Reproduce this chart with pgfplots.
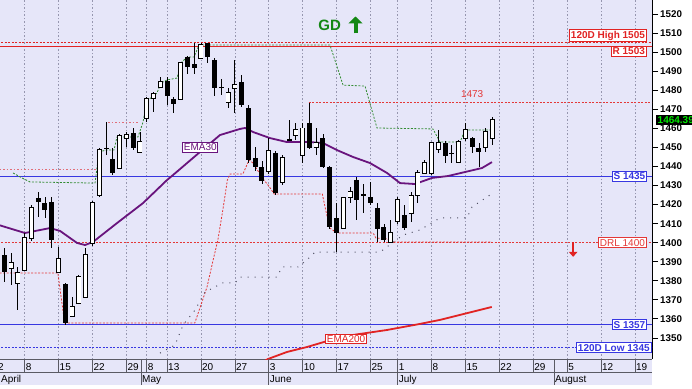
\documentclass[border=0pt]{standalone}
\usepackage{fontspec}
\setmainfont{Liberation Sans}
\usepackage{pgfplots}
\pgfplotsset{compat=1.18}
\usepackage{pgfplotstable}
\usetikzlibrary{arrows.meta}

\definecolor{bg}{RGB}{230,230,249}
\definecolor{gridc}{RGB}{150,150,175}
\definecolor{sepc}{RGB}{90,90,100}
\definecolor{emapurple}{RGB}{105,20,125}
\definecolor{lred}{RGB}{225,35,35}
\definecolor{dred}{RGB}{228,55,55}
\definecolor{pinkr}{RGB}{225,110,120}
\definecolor{lblue}{RGB}{55,55,225}
\definecolor{tgreen}{RGB}{50,140,50}
\definecolor{ggreen}{RGB}{20,135,20}
\definecolor{dotg}{RGB}{80,80,100}
\definecolor{pricegreen}{RGB}{0,230,0}

% k open high low close  (k = trading day index)
\pgfplotstableread{
k o h l c
0 1418.7 1420 1394 1395
1 1393.6 1397 1379.4 1384.6
6 1423.5 1426.6 1413.5 1421.4
7 1420.8 1424 1413 1417.2
8 1421.4 1424 1397.2 1401.4
10 1378.3 1379 1357 1357.9
16 1449.7 1463.3 1446 1449.2
17 1443.9 1449.7 1435.5 1436.6
20 1457.6 1460.2 1448.6 1449.7
25 1484.9 1487 1472.3 1477
26 1475.4 1476.5 1468 1472.8
28 1497.4 1498 1488.5 1492.2
29 1493.8 1505 1488.5 1491.7
31 1504.8 1505 1494.3 1497.4
32 1495.9 1497 1477 1481.2
33 1481.7 1486 1477.5 1481.2
36 1484.3 1488 1471 1472.3
37 1470.7 1472 1441.8 1443.4
38 1444.4 1450 1437.5 1439.7
39 1439.7 1443 1431 1432.4
41 1447.1 1448 1425 1426.1
43 1454.4 1464.4 1453.4 1453.9
46 1462.8 1473.5 1449 1449.7
48 1454.9 1457 1439 1439.7
49 1439.7 1440 1407 1408.2
50 1413 1420.8 1395.1 1405.1
53 1432.9 1434.5 1411.9 1422.4
54 1425.5 1431 1415.5 1425
55 1424 1432 1419.8 1420.8
56 1418.2 1420.8 1400.4 1407.2
57 1408.2 1410 1400.4 1401.4
60 1414.5 1419.8 1406.5 1407.7
66 1452.3 1453.4 1441.8 1445.5
67 1447.1 1451.3 1441.8 1446.6
70 1454.9 1455.5 1447.1 1450.2
71 1449.7 1452.3 1439.7 1447.6
}\blackc

\pgfplotstableread{
k o h l c
2 1386.6 1394.6 1377.8 1389.3
3 1378.9 1387.3 1364.7 1384.1
4 1385.7 1405 1385 1402.5
5 1402.5 1419.8 1401 1418.2
9 1384.6 1397.8 1384 1391.5
11 1361.6 1371.5 1361 1366.3
12 1368.4 1383 1368 1382
13 1371.5 1397.2 1371 1393.6
14 1399.8 1422 1398.5 1420.8
15 1425 1449.5 1424 1448.6
18 1439.2 1457 1439 1456
19 1455 1458.1 1450 1456.8
21 1447.6 1458.1 1447 1452.8
22 1465.4 1476.5 1463.3 1475.4
23 1476 1479.1 1468.6 1478.3
24 1481.7 1487 1481.2 1484.3
27 1475.4 1495 1474.9 1494.3
30 1496.9 1505 1496.4 1503.7
34 1473.8 1481 1470.7 1478.6
35 1481.2 1495.9 1468 1482.7
40 1437.6 1455 1436 1448.1
42 1431.9 1446 1430.5 1444.4
44 1456.5 1462.8 1453.9 1459.1
45 1446 1463 1442 1460
47 1450.2 1460.2 1446 1452.3
51 1407.7 1424 1407 1423.5
52 1424 1429.2 1421 1426.6
58 1400.4 1412 1400 1405.1
59 1411.3 1424 1410 1422.4
61 1415.6 1426.6 1411 1424.5
62 1425 1438 1421 1436.6
63 1436.6 1443.4 1436 1441.8
64 1436.6 1452.8 1435.5 1452.3
65 1449.2 1459.1 1447 1452.3
68 1442.3 1454 1442 1452.8
69 1455 1462.8 1453.4 1459.1
72 1450.2 1460.2 1447.6 1458.1
73 1454.9 1466 1451.3 1464.39
}\whitec

\tikzset{
  lbox/.style={fill=white, line width=0.8pt, inner sep=1.4pt, font=\bfseries\fontsize{10}{11}\selectfont},
  trail/.style={line width=0.8pt, dash pattern=on 2pt off 1.5pt},
  dlab/.style={anchor=base west, inner sep=0pt, font=\fontsize{10}{12}\selectfont},
}

\begin{document}
\begin{tikzpicture}
\fill[white] (0pt,0pt) rectangle (692pt,388pt);
\fill[bg] (0pt,3pt) rectangle (652pt,29pt);
\begin{axis}[
  name=ax, at={(0pt,29pt)}, anchor=south west,
  scale only axis, width=652pt, height=359pt,
  xmin=0.366, xmax=96.53, ymin=1339, ymax=1527.35,
  axis background/.style={fill=bg},
  axis x line*=bottom, axis y line*=right,
  x axis line style={draw=sepc, line width=0.6pt},
  y axis line style={draw=black, line width=1pt},
  xtick={4,9,14,19,22,25,30,35,40,45,50,55,59,64,69,74,79,84,89,94},
  xticklabels={8,15,22,29,8,13,20,27,3,10,17,25,1,8,15,22,29,5,12,19},
  x tick style={draw=none},
  xticklabel style={anchor=base west, yshift=-11pt, xshift=1pt, inner sep=0pt, font=\fontsize{10}{12}\selectfont},
  xmajorgrids,
  major grid style={draw=gridc, dash pattern=on 1.5pt off 2pt, line width=0.55pt},
  ytick={1350,1360,...,1520},
  ytick align=outside, major tick length=6pt,
  y tick style={draw=black, line width=1pt},
  yticklabel style={anchor=west, inner sep=0pt, xshift=2pt, font=\bfseries\fontsize{9.8}{11}\selectfont},
  /pgf/number format/1000 sep={}, /pgf/number format/assume math mode=true,
  after end axis/.code={
    \draw[sepc, line width=0.6pt] (axis cs:0.366,1339) ++(0pt,-13pt) -- ++(652pt,0pt);
    \foreach \k in {4,9,14,19,22,25,30,35,45,50,55,64,69,74,79,84,89,94}{
      \draw[sepc, line width=0.6pt] (axis cs:\k,1339) -- ++(0pt,-13pt);
    }
    \foreach \k in {21.16,40,59,82.07}{
      \draw[sepc, line width=0.6pt] (axis cs:\k,1339) -- ++(0pt,-26pt);
    }
    \node[dlab] at ([xshift=-2pt,yshift=-11pt]axis cs:0.366,1339) {2};
    \node[dlab] at ([xshift=1pt,yshift=-23pt]axis cs:0.366,1339) {April};
    \node[dlab] at ([xshift=1pt,yshift=-23pt]axis cs:21.16,1339) {May};
    \node[dlab] at ([xshift=1pt,yshift=-23pt]axis cs:40,1339) {June};
    \node[dlab] at ([xshift=1pt,yshift=-23pt]axis cs:59,1339) {July};
    \node[dlab] at ([xshift=1pt,yshift=-23pt]axis cs:82.07,1339) {August};
    \node[fill=black, text=pricegreen, anchor=west, inner sep=1.5pt, font=\bfseries\fontsize{10}{11}\selectfont] at ([xshift=4pt]axis cs:96.53,1464.39) {1464.39};
  },
]

% horizontal levels
\addplot[lred, line width=1pt] coordinates {(0,1503) (97,1503)};
\addplot[lred, trail] coordinates {(0,1505) (97,1505)};
\addplot[dred, trail] coordinates {(45.9,1473.5) (97,1473.5)};
\addplot[lblue, line width=1pt] coordinates {(0,1435) (97,1435)};
\addplot[dred, trail] coordinates {(0,1400) (97,1400)};
\addplot[lblue, line width=1pt] coordinates {(0,1357) (97,1357)};
\addplot[lblue, trail] coordinates {(0,1345) (97,1345)};

% trailing stop lines
\addplot[pinkr, line width=0.7pt, dash pattern=on 1.5pt off 2pt] coordinates {(0.3,1438.7) (14.6,1438.7)};
\addplot[pinkr, line width=0.7pt, dash pattern=on 1.5pt off 2pt] coordinates {(16.3,1463.3) (20.7,1463.3)};
\addplot[dred, trail] coordinates {
(0.3,1384.1) (8.9,1384.1) (9.9,1357.9) (29.1,1357.9) (29.9,1366.3) (30.9,1376.8)
(31.8,1390.9) (32.5,1401.4) (33.3,1418.7) (33.9,1432.9) (34.3,1436.1) (36.2,1436.1)
(37.1,1443.4) (37.7,1441.8) (38.6,1436.6) (39.3,1432.9) (40.0,1429.8) (40.8,1425.6)
(47.9,1425.6) (48.4,1417.2) (49.0,1407.7) (50.1,1405.1) (55.4,1405.1) (55.8,1402.5)
(57.5,1402.0) (57.9,1400.4) (72.9,1400.4)};
\addplot[tgreen, trail] coordinates {
(2.28,1436.6) (3.61,1434.0) (4.79,1431.9) (14.38,1431.3) (14.97,1447.6) (16.0,1448.6)
(17.18,1448.6) (17.62,1455.5) (20.72,1455.5) (21.46,1463.3) (22.05,1474.9) (22.93,1476.5)
(23.52,1478.6) (24.11,1483.8) (25.0,1485.4) (26.47,1486.4) (27.06,1494.3) (27.95,1497.4)
(28.98,1497.4) (29.72,1503.7) (49.04,1503.7) (50.96,1482.7) (54.2,1482.2) (55.97,1460.2)
(64.23,1459.7) (65.26,1452.8) (68.21,1452.8) (68.95,1459.1) (72.93,1459.1)};
\addplot[dotg, line width=1pt, dash pattern=on 1pt off 6pt] coordinates {
(23.96,1342.1) (26.18,1346.3) (27.36,1356.8) (29.13,1364.7) (30.6,1374.1) (32.08,1376.8)
(33.11,1378.9) (35.03,1378.9) (35.76,1382.0) (41.22,1382.0) (41.96,1387.3) (44.32,1387.3)
(45.79,1391.5) (46.83,1395.1) (56.41,1395.1) (59.8,1404.0) (62.3,1406.7) (65.26,1413.0)
(69.24,1413.0) (69.98,1418.7) (73.08,1426.1)};

% EMA lines
\addplot[emapurple, line width=1.8pt] coordinates {
(0,1409.5) (4.05,1405.1) (7.74,1407.7) (9.22,1406.2) (11.72,1399.9) (12.9,1398.8)
(14.08,1400.4) (17.62,1410.3) (21.46,1420.8) (25.0,1432.9) (25.88,1435.5) (29.86,1447.6)
(32.81,1456.5) (35.76,1459.7) (36.5,1460.2) (37.68,1458.1) (40.19,1454.9) (42.7,1452.8)
(46.09,1452.8) (48.0,1452.3) (50.07,1448.6) (52.43,1445.0) (54.94,1441.8) (57.45,1436.6)
(59.36,1431.3) (61.58,1430.8) (64.08,1434.0) (66.44,1435.0) (68.95,1437.1) (71.46,1439.2)
(72.93,1442.3)};
\addplot[lred, line width=1.8pt] coordinates {
(38,1335) (39.89,1339.0) (42.7,1342.7) (45.65,1345.3) (48.6,1348.4) (52.4,1351.6)
(57.4,1354.2) (62.3,1357.4) (65.25,1359.5) (68.5,1362.4) (72.9,1366.3)};

% candles: wicks
\addplot[draw=none, mark=none, forget plot, error bars/.cd, y dir=both, y explicit, error mark=none,
  error bar style={draw=black, line width=0.8pt, solid}]
  table[x=k, y expr={(\thisrow{h}+\thisrow{l})/2}, y error expr={(\thisrow{h}-\thisrow{l})/2}] {\blackc};
\addplot[draw=none, mark=none, forget plot, error bars/.cd, y dir=both, y explicit, error mark=none,
  error bar style={draw=black, line width=0.8pt, solid}]
  table[x=k, y expr={(\thisrow{h}+\thisrow{l})/2}, y error expr={(\thisrow{h}-\thisrow{l})/2}] {\whitec};
% black bodies
\addplot[draw=none, mark=none, forget plot, error bars/.cd, y dir=both, y explicit, error mark=none,
  error bar style={draw=black, line width=5pt, solid}]
  table[x=k, y expr={(\thisrow{o}+\thisrow{c})/2}, y error expr={max(abs(\thisrow{o}-\thisrow{c})/2,0.45)}] {\blackc};
% white bodies: outline then fill
\addplot[draw=none, mark=none, forget plot, error bars/.cd, y dir=both, y explicit, error mark=none,
  error bar style={draw=black, line width=5pt, solid}]
  table[x=k, y expr={(\thisrow{o}+\thisrow{c})/2}, y error expr={abs(\thisrow{o}-\thisrow{c})/2+0.42}] {\whitec};
\addplot[draw=none, mark=none, forget plot, error bars/.cd, y dir=both, y explicit, error mark=none,
  error bar style={draw=white, line width=3.4pt, solid}]
  table[x=k, y expr={(\thisrow{o}+\thisrow{c})/2}, y error expr={max(abs(\thisrow{o}-\thisrow{c})/2-0.02,0)}] {\whitec};

% labels
\node[lbox, draw=lred, text=lred, anchor=south east] at (axis cs:95.75,1505.3) {120D High 1505};
\node[lbox, draw=lred, text=lred, anchor=north east] at (axis cs:95.75,1503.3) {R 1503};
\node[lbox, draw=lblue, text=lblue, anchor=east] at (axis cs:95.8,1435) {S 1435};
\node[lbox, draw=dred, text=dred, anchor=east, font=\fontsize{10}{11}\selectfont] at (axis cs:95.75,1400) {DRL 1400};
\node[lbox, draw=lblue, text=lblue, anchor=east] at (axis cs:95.8,1357) {S 1357};
\node[lbox, draw=lblue, text=lblue, anchor=east] at (axis cs:96.45,1345) {120D Low 1345};
\node[text=dred, anchor=south, inner sep=1pt, font=\fontsize{10}{11}\selectfont] at (axis cs:70,1475.3) {1473};
\node[lbox, draw=emapurple, text=emapurple, font=\fontsize{10}{11}\selectfont, inner sep=1pt] at (axis cs:29.9,1450) {EMA30};
\node[lbox, draw=lred, text=lred, font=\fontsize{10}{11}\selectfont, inner sep=1pt] at (axis cs:51.4,1349.7) {EMA200};
\node[text=ggreen, font=\bfseries\fontsize{15}{16}\selectfont, inner sep=0pt] at (axis cs:49.0,1514.2) {GD};
\draw[ggreen, line width=4pt, -{Triangle[length=7pt,width=14pt]}] (axis cs:52.8,1509.8) -- (axis cs:52.8,1518.7);
\draw[lred, line width=2.5pt, -{Triangle[length=5pt,width=8.5pt]}] (axis cs:84.9,1400.3) -- (axis cs:84.9,1392.6);
\end{axis}
\pgfresetboundingbox
\useasboundingbox (0pt,0pt) rectangle (692pt,388pt);
\end{tikzpicture}
\end{document}
